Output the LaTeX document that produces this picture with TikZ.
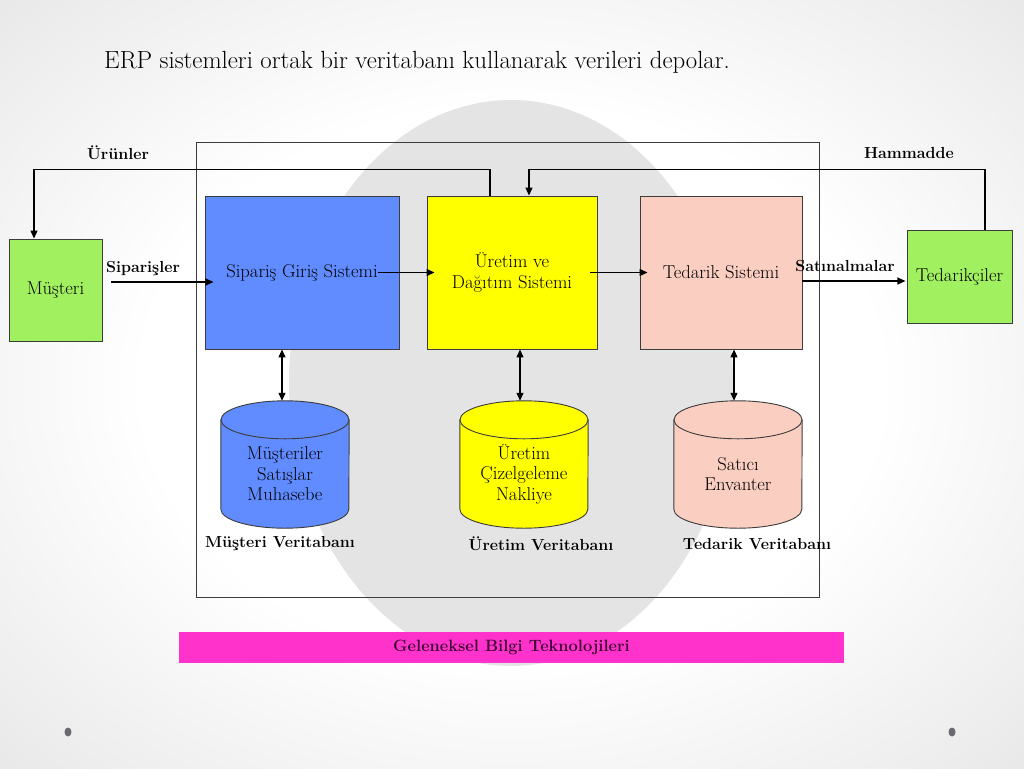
\documentclass[tikz,border=0pt]{standalone}
\usepackage{fontspec}
\usetikzlibrary{arrows.meta}
\definecolor{sysblue}{RGB}{96,140,255}
\definecolor{sysyellow}{RGB}{255,255,0}
\definecolor{syspeach}{RGB}{250,206,192}
\definecolor{extgreen}{RGB}{160,240,96}
\definecolor{barpink}{RGB}{255,51,204}
\definecolor{bartext}{RGB}{60,0,50}
\definecolor{ringgray}{RGB}{228,228,228}
\definecolor{edgegray}{RGB}{60,60,60}
\definecolor{dotgray}{RGB}{105,105,110}
\pgfdeclareradialshading{slidebg}{\pgfpoint{0bp}{0bp}}{color(0bp)=(white); color(18bp)=(white); color(32bp)=(black!7); color(50bp)=(black!17)}
\pgfdeclarelayer{bg}
\pgfdeclarelayer{mid}
\pgfsetlayers{bg,mid,main}
\newcommand{\dbcyl}[2]{%
  \begin{pgfonlayer}{mid}
    \filldraw[fill=#2, draw=edgegray, line width=0.9pt]
      (#1.north west) -- ([yshift=19pt]#1.south west)
      arc[start angle=180, end angle=360, x radius=64pt, y radius=19pt]
      -- (#1.north east) -- cycle;
    \filldraw[fill=#2, draw=edgegray, line width=0.9pt]
      (#1.north) ellipse [x radius=64pt, y radius=19pt];
  \end{pgfonlayer}}
\begin{document}
\begin{tikzpicture}[x=1pt,y=-1pt,
  sysbox/.style={draw=edgegray, line width=0.9pt, inner sep=0pt, align=center,
    font=\fontsize{18.6}{21}\selectfont},
  dbnode/.style={inner sep=0pt, align=center, minimum width=128pt, minimum height=108pt,
    font=\fontsize{18.6}{20.5}\selectfont},
  lbl/.style={inner sep=0pt, font=\bfseries\fontsize{16}{19}\selectfont},
  flow/.style={line width=1.2pt, -{Triangle[length=8pt,width=7pt]}},
  both/.style={line width=1.2pt, {Triangle[length=8pt,width=7pt]}-{Triangle[length=8pt,width=7pt]}},
]
\useasboundingbox (0,0) rectangle (1024,768);
\begin{pgfonlayer}{bg}
  \shade[shading=slidebg] (0,0) rectangle (1024,768);
  \fill[ringgray] (511,383) ellipse [x radius=222pt, y radius=283pt];
  \fill[dotgray] (68,732) ellipse [x radius=3.5pt, y radius=4.5pt];
  \fill[dotgray] (952,732) ellipse [x radius=3.5pt, y radius=4.5pt];
\end{pgfonlayer}

\node[anchor=west, inner sep=0pt, font=\fontsize{24.8}{28}\selectfont] (title) at (104,62)
  {ERP sistemleri ortak bir veritabanı kullanarak verileri depolar.};

\node[draw=edgegray, line width=0.9pt, minimum width=623pt, minimum height=455pt, inner sep=0pt] (frame) at (507.5,369.5) {};

\node[sysbox, fill=extgreen, minimum width=93pt, minimum height=102pt] (musteri) at (55.5,290) {Müşteri};
\node[sysbox, fill=extgreen, minimum width=105pt, minimum height=93pt] (tedarikciler) at (959.5,276.5) {Tedarikçiler};
\node[sysbox, fill=sysblue, minimum width=194pt, minimum height=153pt] (siparis) at (302,272.5) {Sipariş Giriş Sistemi};
\node[sysbox, fill=sysyellow, minimum width=170pt, minimum height=153pt] (uretim) at (512,272.5) {Üretim ve\\Dağıtım Sistemi};
\node[sysbox, fill=syspeach, minimum width=162pt, minimum height=153pt] (tedarik) at (721,272.5) {Tedarik Sistemi};

\node[dbnode] (db1) at (285,474) {Müşteriler\\Satışlar\\Muhasebe};
\node[dbnode] (db2) at (524,474) {Üretim\\Çizelgeleme\\Nakliye};
\node[dbnode] (db3) at (738,474) {Satıcı\\Envanter};
\dbcyl{db1}{sysblue}
\dbcyl{db2}{sysyellow}
\dbcyl{db3}{syspeach}

\node[lbl] (lab1) at (280,544) {Müşteri Veritabanı};
\node[lbl] (lab2) at (541,544) {Üretim Veritabanı};
\node[lbl] (lab3) at (757,544) {Tedarik Veritabanı};

\node[lbl] (urunler) at (118,153) {Ürünler};
\node[lbl] (hammadde) at (909,153) {Hammadde};
\node[lbl] (siparisler) at (143,269) {Siparişler};
\node[lbl] (satinalma) at (845,266) {Satınalmalar};

\node[fill=barpink, minimum width=665pt, minimum height=31pt, inner sep=0pt,
  text=bartext, font=\bfseries\fontsize{16.4}{19}\selectfont] (bar) at (511.5,647) {Geleneksel Bilgi Teknolojileri};

% connectors
\draw[flow] ([xshift=9pt,yshift=8pt]musteri.east) -- ++(102,0);
\draw[flow] ([xshift=-21pt]siparis.east) -- ([xshift=8pt]uretim.west);
\draw[flow] ([xshift=-7pt]uretim.east) -- ([xshift=8pt]tedarik.west);
\draw[flow] ([yshift=-8.5pt]tedarik.east) -- ++(103,0);
\draw[flow] ([xshift=-22pt]uretim.north) -- ++(0,-26) -| ([xshift=-21.5pt]musteri.north);
\draw[flow] ([xshift=25.5pt]tedarikciler.north) -- ++(0,-60) -| ([xshift=17pt]uretim.north);
\draw[both] ([xshift=-20pt]siparis.south) -- ([xshift=-3pt,yshift=19pt]db1.north);
\draw[both] ([xshift=8pt]uretim.south) -- ([xshift=-4pt,yshift=19pt]db2.north);
\draw[both] ([xshift=13pt]tedarik.south) -- ([xshift=-4pt,yshift=19pt]db3.north);
\end{tikzpicture}
\end{document}
